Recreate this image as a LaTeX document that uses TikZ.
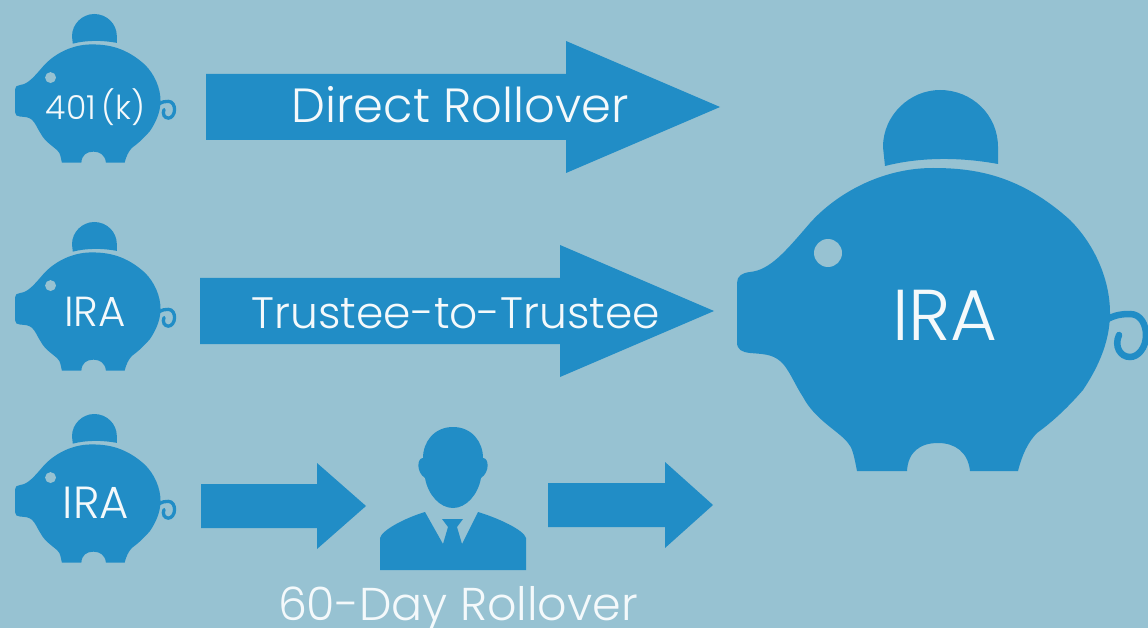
\documentclass[tikz,border=0pt]{standalone}
\usepackage{fontspec}
\setmainfont{Poppins}[UprightFont=* Light]
\definecolor{skyback}{RGB}{151,194,210}
\definecolor{pigblue}{RGB}{33,141,198}
\definecolor{softwhite}{RGB}{244,249,251}
\tikzset{
    x=1pt, y=-1pt,
    bluefill/.style={fill=pigblue, draw=none},
    labeltext/.style={text=softwhite, inner sep=0pt, anchor=base}
}
% pig is drawn in the coordinates of the big one
\newcommand{\piggy}[3]{
    \begin{scope}[shift={(#1,#2)}, scale=#3, shift={(-883,-90)}]
        \draw[pigblue, line width=1.25pt+#3*5.25pt, line cap=round] (1106,320) .. controls (1114,315) and (1122,314) .. (1130,314)
            .. controls (1141,314) and (1146,325) .. (1146,335)
            .. controls (1146,348) and (1138,357) .. (1130,357)
            .. controls (1120,357) and (1114,346) .. (1119,335);
        \fill[bluefill] (885,166) -- (883,147) .. controls (883,115) and (910,90) .. (940,90)
            .. controls (972,90) and (998,115) .. (998,147) -- (998,164)
            .. controls (960,157) and (920,157) .. (885,166) -- cycle;
        \fill[bluefill] (737,283) .. controls (737,276) and (742,273) .. (750,272)
            .. controls (770,270) and (785,252) .. (810,223)
            .. controls (835,195) and (880,168) .. (933,168)
            .. controls (975,168) and (1020,175) .. (1070,220)
            .. controls (1095,245) and (1110,280) .. (1110,313)
            .. controls (1110,345) and (1095,372) .. (1083,390)
            .. controls (1070,405) and (1055,420) .. (1037,433)
            .. controls (1028,442) and (1022,455) .. (1018,471)
            -- (970,471) .. controls (968,452) and (955,443) .. (938,443)
            .. controls (920,443) and (908,452) .. (907,471)
            -- (857,471) .. controls (854,455) and (852,447) .. (848,443)
            .. controls (840,432) and (815,420) .. (803,397)
            .. controls (795,385) and (788,367) .. (780,361)
            .. controls (772,354) and (762,354) .. (750,353)
            .. controls (742,352) and (737,350) .. (737,342) -- cycle;
        \fill[skyback] (828,253) circle[radius=14];
    \end{scope}
}
% block arrow: tail x, head x, tip x, centre y, half shaft, half head
\newcommand{\blockarrow}[6]{
    \fill[bluefill] (#1,#4-#5) -- (#2,#4-#5) -- (#2,#4-#6) -- (#3,#4) -- (#2,#4+#6) -- (#2,#4+#5) -- (#1,#4+#5) -- cycle;
}
\begin{document}
\begin{tikzpicture}
    \useasboundingbox (0,0) rectangle (1148,628);
    \fill[skyback] (0,0) rectangle (1148,628);
    % the pigs
    \piggy{72}{14}{0.39}
    \piggy{72}{222}{0.39}
    \piggy{72}{414}{0.39}
    \piggy{883}{90}{1}
    % the arrows
    \blockarrow{206}{566}{720}{107}{33}{66}
    \blockarrow{200}{560}{714}{311}{33}{66}
    \blockarrow{201}{317}{366}{506}{22}{43}
    \blockarrow{548}{665}{713}{505}{22}{43}
    % the person
    \fill[bluefill] (453,427) .. controls (434,427) and (423,442) .. (423,458)
        .. controls (417,458) and (416,472) .. (425,478)
        .. controls (428,495) and (440,508) .. (453,508)
        .. controls (466,508) and (478,495) .. (481,478)
        .. controls (490,472) and (489,458) .. (483,458)
        .. controls (483,442) and (472,427) .. (453,427) -- cycle;
    \fill[bluefill] (380,570) -- (380,538) .. controls (382,530) and (405,518) .. (425,512)
        -- (443,544) -- (448,527) -- (442,519) -- (463,519) -- (457,527) -- (462,544)
        -- (478,512) .. controls (498,518) and (524,530) .. (526,538) -- (526,570) -- cycle;
    % the texts
    \node[labeltext, font=\fontsize{33}{33}\selectfont] (labelkay) at (95.5,120) {401\,(k)};
    \node[labeltext, font=\fontsize{42}{42}\selectfont] (labelone) at (95,326) {IRA};
    \node[labeltext, font=\fontsize{45}{45}\selectfont] (labeltwo) at (96,518) {IRA};
    \node[labeltext, font=\fontsize{72}{72}\selectfont] (labelbig) at (945,340) {IRA};
    \node[labeltext, font=\fontsize{48}{48}\selectfont] (direct) at (460,123) {Direct Rollover};
    \node[labeltext, font=\fontsize{44}{44}\selectfont] (trustee) at (456,328) {Trustee-to-Trustee};
    \node[labeltext, font=\fontsize{46}{46}\selectfont] (sixty) at (458,620) {60-Day Rollover};
\end{tikzpicture}
\end{document}
